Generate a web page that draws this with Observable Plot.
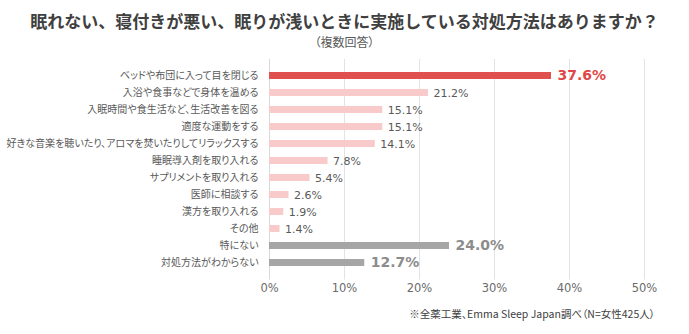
<!DOCTYPE html>
<html>
<head>
<meta charset="utf-8">
<script src="https://cdn.jsdelivr.net/npm/d3@7"></script>
<script src="https://cdn.jsdelivr.net/npm/@observablehq/plot@0.6"></script>
<style>
  html, body { margin: 0; padding: 0; background: #fff; }
  body { width: 689px; height: 334px; overflow: hidden; font-family: "Noto Sans CJK JP", sans-serif; }
  #head { height: 52px; text-align: center; }
  #title { padding-top: 10px; font-size: 17px; font-weight: bold; color: #404040; line-height: 22px; }
  #sub { font-size: 12px; color: #595959; line-height: 16px; margin-top: 2px; font-feature-settings: "palt"; }
  #chart svg text { font-feature-settings: "palt"; }
  #cap { text-align: right; padding-right: 34px; font-size: 10.5px; color: #404040; margin-top: 4px; font-feature-settings: "palt"; }
</style>
</head>
<body>
<div id="head">
  <div id="title">眠れない、寝付きが悪い、眠りが浅いときに実施している対処方法はありますか？</div>
  <div id="sub">（複数回答）</div>
</div>
<div id="chart"></div>
<div id="cap">※全薬工業、Emma Sleep Japan調べ（N=女性425人）</div>
<script>
const categories = [
  "ベッドや布団に入って目を閉じる",
  "入浴や食事などで身体を温める",
  "入眠時間や食生活など、生活改善を図る",
  "適度な運動をする",
  "好きな音楽を聴いたり、アロマを焚いたりしてリラックスする",
  "睡眠導入剤を取り入れる",
  "サプリメントを取り入れる",
  "医師に相談する",
  "漢方を取り入れる",
  "その他",
  "特にない",
  "対処方法がわからない"
];
const values = [37.6, 21.2, 15.1, 15.1, 14.1, 7.8, 5.4, 2.6, 1.9, 1.4, 24.0, 12.7];
const groups = ["top", "other", "other", "other", "other", "other", "other", "other", "other", "other", "none", "none"];
const xTicks = [0, 10, 20, 30, 40, 50];
const tickLabels = ["0%", "10%", "20%", "30%", "40%", "50%"];

const data = categories.map((c, i) => ({category: c, value: values[i], group: groups[i]}));
const barColor = {top: "#E0504F", other: "#F8CACA", none: "#A6A6A6"};
const textColor = {top: "#E04848", other: "#595959", none: "#8C8C8C"};

const numFont = "DejaVu Sans, Verdana, sans-serif";

const chart = Plot.plot({
  width: 689,
  height: 250,
  marginLeft: 269,
  marginRight: 45,
  marginTop: 7,
  marginBottom: 22.5,
  style: {fontFamily: "Noto Sans CJK JP, sans-serif", background: "#fff"},
  x: {domain: [0, 50], axis: null, label: null},
  y: {domain: categories, padding: 0.6, axis: null, label: null},
  marks: [
    Plot.ruleX(xTicks.slice(1), {stroke: "#e3e3e3", strokeWidth: 1}),
    Plot.ruleX([0], {stroke: "#d9d9d9", strokeWidth: 1}),
    Plot.barX(data, {
      y: "category", x: "value",
      fill: d => barColor[d.group]
    }),
    Plot.axisY({
      tickSize: 0, tickPadding: 11, fontSize: 10, label: null,
      color: "#595959", style: {letterSpacing: "-0.3px"}
    }),
    Plot.axisX({
      ticks: xTicks, tickSize: 0, tickPadding: 4, label: null,
      tickFormat: (d) => tickLabels[xTicks.indexOf(d)],
      fontSize: 11.5, color: "#6b6b6b", fontFamily: numFont
    }),
    Plot.text(data.filter(d => d.group === "other"), {
      y: "category", x: "value",
      text: d => d.value.toFixed(1) + "%",
      textAnchor: "start", dx: 5,
      fill: d => textColor[d.group],
      fontSize: 11, fontFamily: numFont
    }),
    Plot.text(data.filter(d => d.group !== "other"), {
      y: "category", x: "value",
      text: d => d.value.toFixed(1) + "%",
      textAnchor: "start", dx: 6,
      fill: d => textColor[d.group],
      fontSize: 14, fontWeight: "bold", fontFamily: numFont
    })
  ]
});
document.getElementById("chart").appendChild(chart);
</script>
</body>
</html>
